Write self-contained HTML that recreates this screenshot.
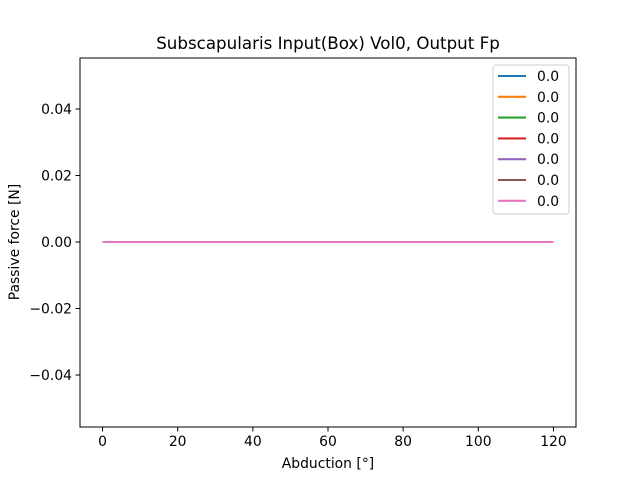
<!DOCTYPE html>
<html><head><meta charset="utf-8"><style>
body{margin:0;background:#fff}
svg{display:block;font-family:"DejaVu Sans","Liberation Sans",sans-serif}
</style></head><body>
<svg id="chart" width="640" height="480">
<rect width="640" height="480" fill="#fff"/>
<text x="328" y="49" text-anchor="middle" font-size="16.7">Subscapularis Input(Box) Vol0, Output Fp</text>
<g id="ticks"></g>
<g id="lines"></g>
<rect x="80" y="58" width="496" height="369" fill="none" stroke="#000" stroke-width="1"/>
<text x="328" y="468" text-anchor="middle" font-size="13.9">Abduction [°]</text>
<text transform="translate(19,242) rotate(-90)" text-anchor="middle" font-size="13.9">Passive force [N]</text>
<g id="legend"></g>
</svg>
<script>
const xTicks=[0,20,40,60,80,100,120];
const yTicks=[-0.04,-0.02,0.00,0.02,0.04];
const yTickLabels=["−0.04","−0.02","0.00","0.02","0.04"];
const seriesLabels=["0.0","0.0","0.0","0.0","0.0","0.0","0.0"];
const colors=["#1f77b4","#ff7f0e","#2ca02c","#d62728","#9467bd","#8c564b","#e377c2"];
const xValues=[0,120];
const seriesValues=[[0,0],[0,0],[0,0],[0,0],[0,0],[0,0],[0,0]];
const NS="http://www.w3.org/2000/svg";
const xs=v=>80+(v+6)/132*496;
const ys=v=>242-v*3325;
function mk(t,a,p){const e=document.createElementNS(NS,t);for(const k in a)e.setAttribute(k,a[k]);p.appendChild(e);return e;}
const tg=document.getElementById('ticks');
xTicks.forEach(v=>{const x=xs(v);
 const l=mk('line',{x1:x,x2:x,y1:427,y2:431.5,stroke:'#000'},tg);
 
 
 const t=mk('text',{x:x,y:446,'text-anchor':'middle','font-size':13.9},tg);t.textContent=v;
 
 });
yTicks.forEach((v,i)=>{const y=ys(v);
 const l=mk('line',{x1:75.5,x2:80,y1:y,y2:y,stroke:'#000'},tg);
 
 
 const t=mk('text',{x:72,y:y+5,'text-anchor':'end','font-size':13.9},tg);t.textContent=yTickLabels[i];
 
 });
const lg=document.getElementById('lines');
seriesValues.forEach((s,i)=>{const pts=s.map((v,j)=>xs(xValues[j])+','+ys(v)).join(' ');
 const p=mk('polyline',{points:pts,fill:'none',stroke:colors[i],'stroke-width':2.1},lg);
 
 });
const leg=document.getElementById('legend');
const box=mk('rect',{x:493,y:65,width:76,height:149,rx:3,fill:'#fff','fill-opacity':0.8,stroke:'#ccc'},leg);


seriesLabels.forEach((s,i)=>{const y=76+i*20.8;
 const l=mk('line',{x1:498,x2:526,y1:y,y2:y,stroke:colors[i],'stroke-width':2.1},leg);
 
 
 const t=mk('text',{x:537,y:y+5,'font-size':13.9},leg);t.textContent=s;
 
 });
</script>
</body></html>
